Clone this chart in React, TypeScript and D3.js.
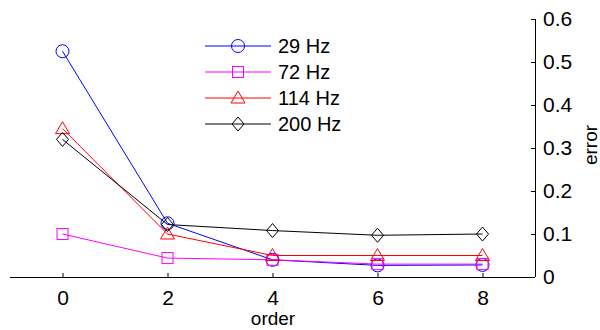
import React, { useEffect, useRef } from 'react';
import * as d3 from 'd3';

const orders = [0, 2, 4, 6, 8];
const series29 = [0.525, 0.125, 0.04, 0.027, 0.028];
const series72 = [0.1, 0.044, 0.04, 0.03, 0.03];
const series114 = [0.345, 0.1, 0.05, 0.05, 0.05];
const series200 = [0.32, 0.122, 0.108, 0.097, 0.1];
const seriesNames = ['29 Hz', '72 Hz', '114 Hz', '200 Hz'];
const xTicks = [0, 2, 4, 6, 8];
const yTicks = [0, 0.1, 0.2, 0.3, 0.4, 0.5, 0.6];

export default function App() {
  const ref = useRef<SVGSVGElement>(null);

  useEffect(() => {
    const svg = d3.select(ref.current);
    svg.selectAll('*').remove();

    const left = 10, right = 535, top = 19, bottom = 277;
    const x = d3.scaleLinear().domain([-1, 9]).range([left, right]);
    const y = d3.scaleLinear().domain([0, 0.6]).range([bottom, top]);
    const font = 'Arial, "Liberation Sans", sans-serif';

    const styles = [
      { name: seriesNames[0], vals: series29, color: '#0000ff', marker: 'circle' },
      { name: seriesNames[1], vals: series72, color: '#ff00ff', marker: 'square' },
      { name: seriesNames[2], vals: series114, color: '#ff0000', marker: 'triangle' },
      { name: seriesNames[3], vals: series200, color: '#000000', marker: 'diamond' },
    ];

    // marker shape drawn at cx, cy
    function drawMarker(g: any, kind: string, cx: number, cy: number, color: string) {
      if (kind === 'circle') {
        g.append('circle').attr('cx', cx).attr('cy', cy).attr('r', 6.5)
          .attr('fill', 'none').attr('stroke', color).attr('stroke-width', 1);
      } else if (kind === 'square') {
        g.append('rect').attr('x', cx - 5.5).attr('y', cy - 5.5).attr('width', 11).attr('height', 11)
          .attr('fill', 'none').attr('stroke', color).attr('stroke-width', 1);
      } else if (kind === 'triangle') {
        g.append('path').attr('d', `M${cx},${cy - 7} L${cx + 7},${cy + 5} L${cx - 7},${cy + 5} Z`)
          .attr('fill', 'none').attr('stroke', color).attr('stroke-width', 1);
      } else {
        g.append('path').attr('d', `M${cx},${cy - 7} L${cx + 6},${cy} L${cx},${cy + 7} L${cx - 6},${cy} Z`)
          .attr('fill', 'none').attr('stroke', color).attr('stroke-width', 1);
      }
    }

    // axes
    const xAxis = d3.axisBottom(x).tickValues(xTicks).tickSize(-4).tickPadding(13).tickFormat(d3.format('d'));
    const gx = svg.append('g').attr('transform', `translate(0,${bottom})`).call(xAxis);
    gx.select('.domain').attr('d', `M${left},0.5H${right}`).attr('stroke', '#000');
    gx.selectAll('.tick line').attr('stroke', '#000');
    gx.selectAll('text').attr('font-family', font).attr('font-size', 21).attr('fill', '#000');

    const yAxis = d3.axisRight(y).tickValues(yTicks).tickSize(-4).tickPadding(8)
      .tickFormat(d => d === 0 ? '0' : d3.format('.1f')(d as number));
    const gy = svg.append('g').attr('transform', `translate(${right},0)`).call(yAxis);
    gy.select('.domain').attr('d', `M0.5,${bottom}V${top}`).attr('stroke', '#000');
    gy.selectAll('text').attr('font-family', font).attr('font-size', 21).attr('fill', '#000');

    svg.append('text').attr('x', 273).attr('y', 325).attr('text-anchor', 'middle')
      .attr('font-family', font).attr('font-size', 19).text('order');
    svg.append('text').attr('transform', `translate(597,145) rotate(-90)`).attr('text-anchor', 'middle')
      .attr('font-family', font).attr('font-size', 19).text('error');

    const line = d3.line<number>().x((_, i) => x(orders[i])).y(d => y(d));

    styles.forEach(s => {
      const g = svg.append('g');
      g.append('path').datum(s.vals).attr('d', line).attr('fill', 'none')
        .attr('stroke', s.color).attr('stroke-width', 1);
      s.vals.forEach((v, i) => drawMarker(g, s.marker, x(orders[i]), y(v), s.color));
    });

    // legend
    const lg = svg.append('g');
    styles.forEach((s, i) => {
      const ly = 46 + i * 26;
      lg.append('line').attr('x1', 205).attr('x2', 271).attr('y1', ly).attr('y2', ly)
        .attr('stroke', s.color).attr('stroke-width', 1);
      drawMarker(lg, s.marker, 238, ly, s.color);
      lg.append('text').attr('x', 278).attr('y', ly + 7).attr('font-family', font)
        .attr('font-size', 20).text(s.name);
    });
  }, []);

  return (
    <svg ref={ref} width={600} height={330} style={{ position: 'absolute', left: 0, top: 0, background: '#fff' }} />
  );
}
